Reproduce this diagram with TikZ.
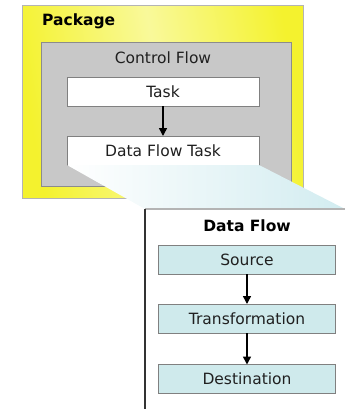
\documentclass[tikz,border=0pt]{standalone}
\usepackage{fontspec}
\setmainfont{DejaVu Sans}
\usetikzlibrary{arrows.meta}
\definecolor{pkgyellow}{HTML}{F4F22E}
\definecolor{pkgpale}{HTML}{F9F99A}
\definecolor{pkgborder}{HTML}{B4B4B4}
\definecolor{cfgray}{HTML}{C8C8C8}
\definecolor{cfborder}{HTML}{8C8C8C}
\definecolor{boxborder}{HTML}{808080}
\definecolor{dfcyan}{HTML}{CFEAEC}
\definecolor{wedgecyan}{HTML}{D2ECF0}
\definecolor{txt}{HTML}{202020}
\tikzset{
  plainbox/.style={rectangle, draw=boxborder, line width=1pt, fill=white,
    minimum width=192pt, minimum height=29pt, inner sep=0pt, outer sep=0pt,
    font=\fontsize{15.5}{18}\selectfont, text=txt},
  dfbox/.style={plainbox, fill=dfcyan, minimum width=177pt},
  flowarrow/.style={line width=1.5pt, -{Triangle[width=8pt,length=8pt]}},
  label/.style={inner sep=0pt, text=txt, font=\fontsize{15.5}{18}\selectfont},
  boldlabel/.style={inner sep=0pt, text=black, font=\fontsize{15.5}{18}\selectfont\bfseries},
}
\begin{document}
\begin{tikzpicture}[x=1pt,y=-1pt]
\useasboundingbox (0,0) rectangle (345,409);
% package frame
\node[rectangle, draw=pkgborder, line width=1pt, minimum width=281pt, minimum height=192pt,
  inner sep=0pt, outer sep=0pt, left color=pkgyellow, right color=pkgyellow, middle color=pkgpale,
  shading angle=100] (pkg) at (162.5,102) {};
\node[boldlabel, anchor=west] (pkgtitle) at (42,21) {Package};
% control flow frame
\node[rectangle, draw=cfborder, fill=cfgray, line width=1pt, minimum width=250pt, minimum height=143pt,
  inner sep=0pt, outer sep=0pt] (cf) at (166.5,114.5) {};
\node[label] (cftitle) at (163,58) {Control Flow};
\node[plainbox] (task) at (163,92) {Task};
\node[plainbox] (dft) at (163,150.5) {Data Flow Task};
\draw[flowarrow] (task) -- (dft);
% zoom wedge from the data flow task to the data flow pane
\coordinate (wtl) at (dft.south west);
\coordinate (wtr) at (dft.south east);
\coordinate (wbl) at (145,209);
\coordinate (wbr) at (345,209);
\shade[left color=white, right color=wedgecyan] (wtl) -- (wbl) -- (wbr) -- (wtr) -- cycle;
% data flow pane
\fill[white] (wbl) rectangle (345,409);
\draw[pkgborder, line width=1.5pt] (wbl) -- (wbr);
\draw[black!80, line width=1.5pt] (wbl) -- (145,409);
\node[boldlabel] (dftitle) at (247,226) {Data Flow};
\node[dfbox] (src) at (247,259.5) {Source};
\node[dfbox] (trf) at (247,318.5) {Transformation};
\node[dfbox] (dst) at (247,379) {Destination};
\draw[flowarrow] (src) -- (trf);
\draw[flowarrow] (trf) -- (dst);
\end{tikzpicture}
\end{document}
